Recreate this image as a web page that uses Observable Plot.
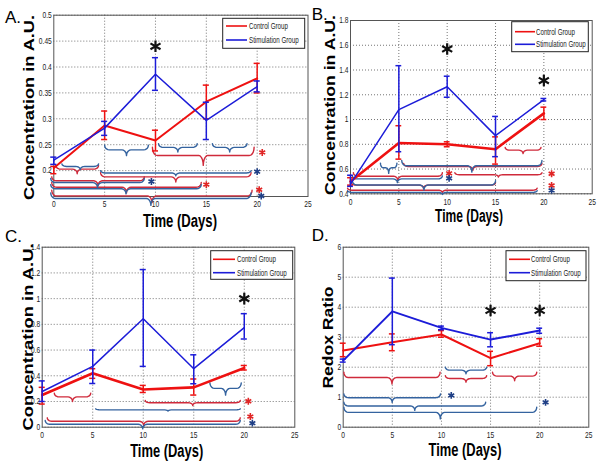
<!DOCTYPE html>
<html><head><meta charset="utf-8">
<script src="https://cdn.jsdelivr.net/npm/d3@7"></script>
<script src="https://cdn.jsdelivr.net/npm/@observablehq/plot@0.6"></script>
<style>
body{margin:0;background:#fff}
#wrap{position:relative;width:600px;height:465px;overflow:hidden;background:#fff}
#wrap svg{position:absolute;overflow:visible}
</style>
</head><body><div id="wrap"></div>
<script>
// ---------- data ----------
const days = [0, 5, 10, 15, 20];
const xTicks = [0, 5, 10, 15, 20, 25];
const seriesNames = ["Control Group", "Stimulation Group"];

// Panel A
const aYTicks = [0.2, 0.25, 0.3, 0.35, 0.4, 0.45, 0.5];
const aCtrl   = [0.205, 0.287, 0.258, 0.333, 0.378];
const aCtrlLo = [0.194, 0.260, 0.238, 0.300, 0.350];
const aCtrlHi = [0.208, 0.315, 0.278, 0.365, 0.407];
const aStim   = [0.220, 0.282, 0.386, 0.297, 0.362];
const aStimLo = [0.212, 0.268, 0.355, 0.260, 0.352];
const aStimHi = [0.226, 0.295, 0.418, 0.332, 0.373];
const aSig = [[10, 0.44]];
const aBraces = [
  ["b", 5.0, 9.3, 0.249, 0.229], ["b", 10.3, 14.1, 0.252, 0.236], ["b", 15.6, 19.0, 0.252, 0.236],
  ["r", 9.7, 19.7, 0.245, 0.21], ["b", 0.8, 4.4, 0.213, 0.202], ["r", 0.2, 4.4, 0.21, 0.194],
  ["b", 4.6, 19.4, 0.2, 0.19], ["r", 4.6, 19.4, 0.196, 0.178], ["r", -0.2, 8.9, 0.188, 0.171],
  ["b", -0.3, 8.9, 0.185, 0.167], ["r", -0.2, 14.5, 0.177, 0.157], ["b", -0.3, 14.5, 0.173, 0.155],
  ["r", -0.2, 19.5, 0.162, 0.138], ["b", -0.3, 19.4, 0.157, 0.133]
];
const aStars = [["r", 20.5, 0.235], ["b", 20.0, 0.198], ["b", 9.6, 0.179], ["r", 15.0, 0.173], ["r", 20.2, 0.163], ["b", 20.4, 0.151]];

// Panel B
const bYTicks = [0.4, 0.6, 0.8, 1, 1.2, 1.4, 1.6, 1.8];
const bCtrl   = [0.50, 0.81, 0.80, 0.76, 1.05];
const bCtrlLo = [0.47, 0.68, 0.78, 0.64, 1.00];
const bCtrlHi = [0.53, 0.95, 0.82, 0.86, 1.10];
const bStim   = [0.48, 1.08, 1.265, 0.87, 1.16];
const bStimLo = [0.46, 0.74, 1.18, 0.70, 1.15];
const bStimHi = [0.55, 1.435, 1.35, 1.025, 1.17];
const bSig = [[10, 1.57], [20, 1.315]];
const bBraces = [
  ["r", 16.0, 19.7, 0.775, 0.725], ["b", 3.1, 4.8, 0.647, 0.565], ["b", 5.3, 19.8, 0.669, 0.575],
  ["r", 5.5, 19.8, 0.645, 0.59], ["r", 0.3, 9.5, 0.57, 0.508], ["r", 10.8, 19.8, 0.57, 0.535],
  ["b", 0.2, 9.5, 0.545, 0.49], ["b", 0.2, 15, 0.505, 0.43], ["r", 0.1, 15, 0.49, 0.445],
  ["r", -0.3, 19.3, 0.445, 0.41], ["b", -0.3, 19.3, 0.425, 0.395]
];
const bStars = [["r", 10.2, 0.565], ["b", 10.2, 0.525], ["r", 20.8, 0.562], ["r", 20.8, 0.467], ["b", 20.8, 0.427]];

// Panel C
const cYTicks = [0, 0.2, 0.4, 0.6, 0.8, 1, 1.2, 1.4];
const cCtrl   = [0.25, 0.42, 0.293, 0.31, 0.46];
const cCtrlLo = [0.18, 0.38, 0.27, 0.25, 0.445];
const cCtrlHi = [0.31, 0.455, 0.325, 0.375, 0.48];
const cStim   = [0.278, 0.473, 0.844, 0.455, 0.774];
const cStimLo = [0.20, 0.34, 0.473, 0.338, 0.686];
const cStimHi = [0.36, 0.60, 1.226, 0.563, 0.883];
const cSig = [[20, 1.0]];
const cBraces = [
  ["b", 16.6, 19.7, 0.345, 0.25], ["r", 1.2, 4.8, 0.265, 0.2], ["r", 10.2, 19.6, 0.208, 0.169],
  ["b", 5.3, 19.6, 0.143, 0.125], ["r", 0.5, 19.6, 0.073, 0.013], ["b", 0.3, 19.6, 0.052, -0.013]
];
const cStars = [["r", 20.4, 0.202], ["r", 20.6, 0.083], ["b", 20.8, 0.031]];

// Panel D
const dYTicks = [0, 1, 2, 3, 4, 5, 6];
const dCtrl   = [2.56, 2.83, 3.09, 2.30, 2.80];
const dCtrlLo = [2.35, 2.55, 3.00, 2.05, 2.70];
const dCtrlHi = [2.80, 3.11, 3.22, 2.53, 2.95];
const dStim   = [2.22, 3.86, 3.31, 2.92, 3.22];
const dStimLo = [2.17, 2.75, 3.25, 2.68, 3.13];
const dStimHi = [2.27, 4.97, 3.37, 3.15, 3.30];
const dSig = [[15, 3.89], [20, 3.89]];
const dBraces = [
  ["r", 0.07, 9.86, 1.83, 1.44], ["b", 10.4, 14.6, 2.0, 1.78], ["r", 10.4, 14.6, 1.72, 1.5],
  ["r", 15.2, 19.7, 1.83, 1.55], ["b", 0.07, 9.9, 1.11, 0.83], ["b", 0.07, 14.5, 0.83, 0.56],
  ["b", 0.07, 19.7, 0.67, 0.28]
];
const dStars = [["b", 11.0, 1.06], ["b", 20.6, 0.83]];

// ---------- style ----------
const RED = "#ee1111", BLUE = "#1c1cd8";
const BR = "#cf2a3b", BB = "#34639f", SR = "#e02525", SB = "#1f3f86";
const FONT = "'Liberation Sans', Arimo, Arial, sans-serif";

const panels = [
  {letter:"A.", left:0, top:0, width:310, height:232, ml:53.3, mr:2.5, mt:14.7, mb:36, yDomain:[0.15,0.5], yTicks:aYTicks,
   v:[aCtrl,aCtrlLo,aCtrlHi,aStim,aStimLo,aStimHi], ctrlW:2, stimW:1.5, braces:aBraces, stars:aStars, sig:aSig,
   leg:{x:222.7,y:18.3,w:82,h:30,r:26,b:40,l1:226,l2:247,t:249}, ylab:{text:"Concentration in A.U.",x:34,cy:107.5,len:185},
   xlab:{cx:180,y:226.5,len:74}, let:{x:5,y:23.3}},
  {letter:"B.", left:300, top:0, width:300, height:232, ml:50, mr:8.3, mt:20, mb:38.7, yDomain:[0.4,1.8], yTicks:bYTicks,
   v:[bCtrl,bCtrlLo,bCtrlHi,bStim,bStimLo,bStimHi], ctrlW:2.6, stimW:1.5, braces:bBraces, stars:bStars, sig:bSig,
   leg:{x:211.7,y:21.7,w:76.6,h:30,r:31.7,b:44.3,l1:215,l2:235,t:236}, ylab:{text:"Concentration in A.U.",x:35,cy:105,len:180},
   xlab:{cx:169,y:221.5,len:68}, let:{x:11.7,y:20}},
  {letter:"C.", left:0, top:230, width:300, height:235, ml:41.7, mr:5.7, mt:16.7, mb:38.3, yDomain:[0,1.4], yTicks:cYTicks,
   v:[cCtrl,cCtrlLo,cCtrlHi,cStim,cStimLo,cStimHi], ctrlW:2.6, stimW:1.5, braces:cBraces, stars:cStars, sig:cSig,
   leg:{x:210.7,y:20.7,w:82,h:28.6,r:29.3,b:42.7,l1:213,l2:235,t:237}, ylab:{text:"Concentration in A.U.",x:33,cy:107,len:187},
   xlab:{cx:166.7,y:226.5,len:73}, let:{x:5,y:12}},
  {letter:"D.", left:300, top:230, width:300, height:235, ml:42.7, mr:11.7, mt:16.7, mb:38.3, yDomain:[0,6], yTicks:dYTicks,
   v:[dCtrl,dCtrlLo,dCtrlHi,dStim,dStimLo,dStimHi], ctrlW:2, stimW:2, braces:dBraces, stars:dStars, sig:dSig,
   leg:{x:206,y:20.7,w:80,h:30,r:29.3,b:42.7,l1:209,l2:230,t:231}, ylab:{text:"Redox Ratio",x:33,cy:107.5,len:102},
   xlab:{cx:165,y:226,len:73}, let:{x:11.7,y:11}}
];

function rows(v, lo, hi) { return days.map((d, i) => ({day: d, v: v[i], lo: lo[i], hi: hi[i]})); }

function braceRows(list) {
  const out = [];
  list.forEach(([c, x1, x2, yt, yp], id) => {
    const e = Math.min(0.45, (x2 - x1) / 6);
    const yb = yt - (yt - yp) * 0.45, xm = (x1 + x2) / 2;
    const h1 = yt - yb, h2 = yb - yp, N = 5;
    const pts = [];
    for (let k = 0; k <= N; k++) { const t = k / N * Math.PI / 2; pts.push([x1 + e * (1 - Math.cos(t)), yt - h1 * Math.sin(t)]); }
    for (let k = 0; k <= N; k++) { const t = k / N * Math.PI / 2; pts.push([xm - e + e * Math.sin(t), yp + h2 * Math.cos(t)]); }
    for (let k = N; k >= 0; k--) { const t = k / N * Math.PI / 2; pts.push([xm + e - e * Math.sin(t), yp + h2 * Math.cos(t)]); }
    for (let k = N; k >= 0; k--) { const t = k / N * Math.PI / 2; pts.push([x2 - e * (1 - Math.cos(t)), yt - h1 * Math.sin(t)]); }
    pts.forEach(([x, y]) => out.push({id, c, x, y}));
  });
  return out;
}

const wrap = document.getElementById("wrap");
const cap = 0.3;

panels.forEach(p => {
  const ctrl = rows(p.v[0], p.v[1], p.v[2]);
  const stim = rows(p.v[3], p.v[4], p.v[5]);
  const br = braceRows(p.braces);
  const st = p.stars.map(([c, x, y]) => ({c, x, y}));
  const sig = p.sig.map(([x, y]) => ({x, y}));
  const errMarks = (data, color) => [
    Plot.ruleX(data, {x: "day", y1: "lo", y2: "hi", stroke: color, strokeWidth: 1.5}),
    Plot.ruleY(data, {y: "lo", x1: d => d.day - cap, x2: d => d.day + cap, stroke: color, strokeWidth: 1.5}),
    Plot.ruleY(data, {y: "hi", x1: d => d.day - cap, x2: d => d.day + cap, stroke: color, strokeWidth: 1.5})
  ];
  const svg = Plot.plot({
    width: p.width, height: p.height,
    marginLeft: p.ml, marginRight: p.mr, marginTop: p.mt, marginBottom: p.mb,
    x: {domain: [0, 25], ticks: xTicks},
    y: {domain: p.yDomain, ticks: p.yTicks},
    style: {background: "transparent", fontFamily: FONT, fontSize: "9px", color: "#222", overflow: "visible"},
    marks: [
      Plot.gridX({ticks: [5, 10, 15, 20], stroke: "#666", strokeOpacity: 0.9, strokeDasharray: "1,2"}),
      Plot.gridY({ticks: p.yTicks, stroke: "#666", strokeOpacity: 0.9, strokeDasharray: "1,2"}),
      Plot.frame({stroke: "#555", strokeWidth: 1}),
      Plot.line(br.filter(d => d.c === "r"), {x: "x", y: "y", z: "id", stroke: BR, strokeWidth: 1.4}),
      Plot.line(br.filter(d => d.c === "b"), {x: "x", y: "y", z: "id", stroke: BB, strokeWidth: 1.4}),
      Plot.dot(st.filter(d => d.c === "r"), {x: "x", y: "y", symbol: "asterisk", r: 3.2, stroke: SR, strokeWidth: 1.6}),
      Plot.dot(st.filter(d => d.c === "b"), {x: "x", y: "y", symbol: "asterisk", r: 3.2, stroke: SB, strokeWidth: 1.6}),
      Plot.line(ctrl, {x: "day", y: "v", stroke: RED, strokeWidth: p.ctrlW}),
      ...errMarks(ctrl, RED),
      Plot.line(stim, {x: "day", y: "v", stroke: BLUE, strokeWidth: p.stimW}),
      ...errMarks(stim, BLUE),
      Plot.dot(sig, {x: "x", y: "y", symbol: "asterisk", r: 5.5, stroke: "#111", strokeWidth: 2.2}),
      Plot.axisX({ticks: xTicks, tickSize: 0, tickPadding: 4.5, label: null, tickFormat: d => String(d)}),
      Plot.axisY({ticks: p.yTicks, tickSize: 0, tickPadding: 2, label: null, tickFormat: d => String(d)})
    ]
  });
  svg.style.left = p.left + "px";
  svg.style.top = p.top + "px";
  wrap.appendChild(svg);

  // compress tick labels horizontally like the original (narrow rendering)
  svg.querySelectorAll("text").forEach(t => {
    const tr = t.getAttribute("transform") || "";
    t.setAttribute("transform", (tr + " scale(0.74,1)").trim());
  });

  const s = d3.select(svg);
  // legend
  const g = s.append("g").attr("text-anchor", "start");
  const L = p.leg;
  g.append("rect").attr("x", L.x).attr("y", L.y).attr("width", L.w).attr("height", L.h)
    .attr("fill", "white").attr("stroke", "#222").attr("stroke-width", 1);
  [[L.r, RED, seriesNames[0]], [L.b, BLUE, seriesNames[1]]].forEach(([yy, col, name]) => {
    g.append("line").attr("x1", L.l1).attr("x2", L.l2).attr("y1", yy).attr("y2", yy).attr("stroke", col).attr("stroke-width", 1.6);
    g.append("text").attr("transform", `translate(${L.t},${yy}) scale(0.69,1)`).attr("dy", "0.35em").attr("text-anchor", "start")
      .attr("font-family", FONT).attr("font-size", 9).attr("fill", "#222").text(name);
  });
  // axis labels
  s.append("text").attr("transform", `translate(${p.ylab.x},${p.ylab.cy}) rotate(-90)`)
    .attr("text-anchor", "middle").attr("font-family", FONT).attr("font-weight", "bold").attr("font-size", 14)
    .attr("fill", "#000").attr("textLength", p.ylab.len).attr("lengthAdjust", "spacingAndGlyphs").text(p.ylab.text);
  s.append("text").attr("x", p.xlab.cx).attr("y", p.xlab.y)
    .attr("text-anchor", "middle").attr("font-family", FONT).attr("font-weight", "bold").attr("font-size", 18)
    .attr("fill", "#000").attr("textLength", p.xlab.len).attr("lengthAdjust", "spacingAndGlyphs").text("Time (Days)");
  s.append("text").attr("x", p.let.x).attr("y", p.let.y).attr("text-anchor", "start").attr("font-family", FONT).attr("font-size", 17)
    .attr("fill", "#000").text(p.letter);
});
</script></body></html>
